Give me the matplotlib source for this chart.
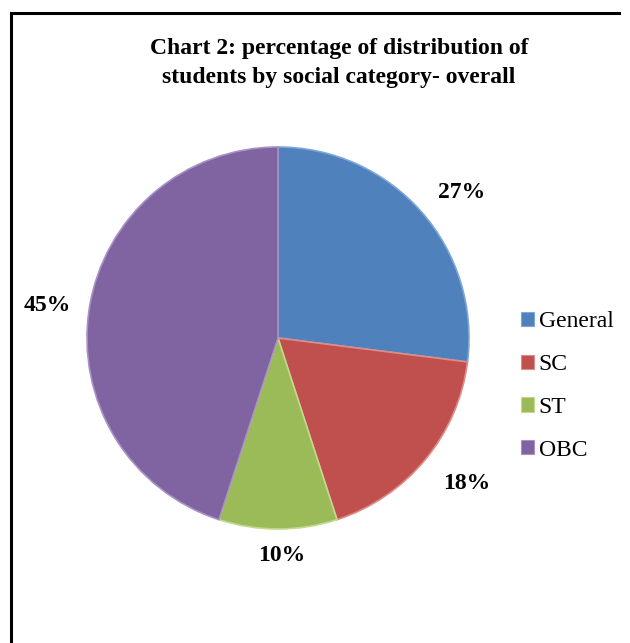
import numpy as np
import matplotlib.pyplot as plt
from matplotlib.patches import Patch
from matplotlib.lines import Line2D

categories = ["General", "SC", "ST", "OBC"]
shares = [27, 18, 10, 45]
colors = ["#4F81BD", "#C0504D", "#9BBB59", "#8064A2"]
edges = ["#7FA6D8", "#E08C89", "#C3DA8E", "#A891C4"]

# where the percentage labels sit (radius, angle nudge in degrees)
label_dist = [1.23, 1.25, 1.14, 1.22]
label_shift = [-3, 2, 1, 1]

plt.rcParams['font.family'] = ['Liberation Serif', 'DejaVu Serif']

fig = plt.figure(figsize=(6.30, 6.43), dpi=100)
fig.patch.set_facecolor("white")

# outer chart frame (left and top edges visible)
fig.add_artist(Line2D([11 / 630, 11 / 630], [0, 1 - 13 / 643], color="black", lw=2.2,
                      transform=fig.transFigure))
fig.add_artist(Line2D([11 / 630, 619 / 630], [1 - 13 / 643, 1 - 13 / 643], color="black", lw=2.2,
                      transform=fig.transFigure))

ax = fig.add_axes([87 / 630, 114 / 643, 382 / 630, 382 / 643])
wedges, texts, autotexts = ax.pie(
    shares, colors=colors, startangle=90, counterclock=False,
    autopct="%d%%", pctdistance=1.22, radius=1,
    wedgeprops=dict(linewidth=1.2),
    textprops=dict(fontsize=17, fontweight="bold", color="black"))
for w, e, t, d, s in zip(wedges, edges, autotexts, label_dist, label_shift):
    w.set_edgecolor(e)
    ang = np.deg2rad((w.theta1 + w.theta2) / 2 + s)
    t.set_position((d * np.cos(ang), d * np.sin(ang)))
ax.set_xlim(-1, 1)
ax.set_ylim(-1, 1)
ax.set_aspect("equal")

fig.text(339 / 630, 1 - 63 / 643,
         "Chart 2: percentage of distribution of\nstudents by social category- overall",
         ha="center", va="center", fontsize=17, fontweight="bold", linespacing=1.45)

handles = [Patch(facecolor=c, edgecolor=e, lw=0.8) for c, e in zip(colors, edges)]
fig.legend(handles, categories, loc="center left", bbox_to_anchor=(521 / 630, 1 - 386 / 643),
           frameon=False, fontsize=17, handlelength=0.55, handleheight=0.55,
           handletextpad=0.2, labelspacing=0.92, borderaxespad=0, borderpad=0)

fig.savefig("out.png", dpi=100)
